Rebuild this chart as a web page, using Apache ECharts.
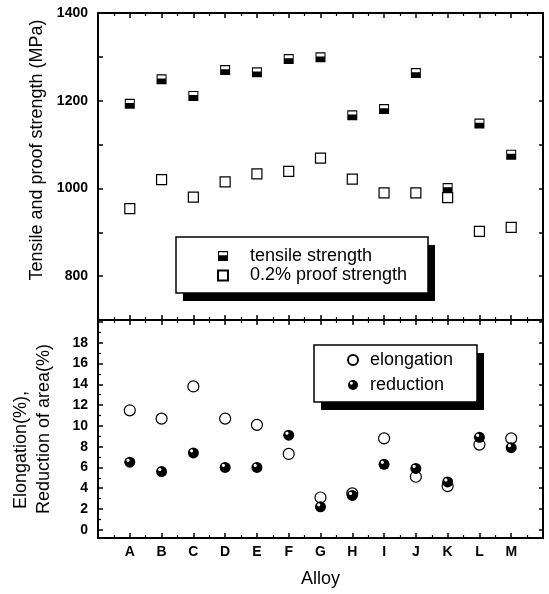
<!DOCTYPE html>
<html>
<head>
<meta charset="utf-8">
<script src="https://cdn.jsdelivr.net/npm/echarts@6/dist/echarts.min.js"></script>
<style>
html, body { margin: 0; padding: 0; background: #fff; }
#chart { width: 549px; height: 594px; }
</style>
</head>
<body>
<div id="chart"></div>
<script>
// data
var alloys = ['A', 'B', 'C', 'D', 'E', 'F', 'G', 'H', 'I', 'J', 'K', 'L', 'M'];
var tensile = [1193, 1249, 1211, 1270, 1265, 1295, 1299, 1167, 1181, 1263, 1001, 1148, 1077];
var proof = [954, 1020, 980, 1015, 1033, 1039, 1069, 1021, 990, 990, 979, 902, 911];
var elongation = [11.5, 10.7, 13.8, 10.7, 10.1, 7.3, 3.1, 3.5, 8.8, 5.1, 4.2, 8.2, 8.8];
var reduction = [6.5, 5.6, 7.4, 6.0, 6.0, 9.1, 2.2, 3.3, 6.3, 5.9, 4.6, 8.9, 7.9];
var percentLabels = [0, 2, 4, 6, 8, 10, 12, 14, 16, 18];
var percentMajor = [0, 2, 4, 6, 8, 10, 12, 14, 16, 18, 20];
var percentMinor = [1, 3, 5, 7, 9, 11, 13, 15, 17, 19];

var myChart = echarts.init(document.getElementById('chart'));

var black = '#000';
var font = 'Liberation Sans, Arial, sans-serif';

function pairs(vals) {
    return vals.map(function (v, i) { return [i + 1, v]; });
}

// x axis (alloy positions 1..13), used on both panels, top and bottom
function alloyAxis(grid, pos, showLabel) {
    return {
        type: 'value',
        gridIndex: grid,
        position: pos,
        min: 0,
        max: 14,
        interval: 1,
        axisLine: { show: true, onZero: false, lineStyle: { color: black, width: 2 } },
        axisTick: { show: true, inside: true, length: 5, lineStyle: { color: black, width: 1.5 } },
        minorTick: { show: true, splitNumber: 2, length: 3, lineStyle: { color: black, width: 1.2 } },
        splitLine: { show: false },
        axisLabel: {
            show: showLabel,
            margin: 7,
            color: black,
            fontFamily: font,
            fontSize: 14,
            fontWeight: 'bold',
            formatter: function (v) { return alloys[v - 1] || ''; }
        }
    };
}

function boxLine() {
    return { show: true, onZero: false, lineStyle: { color: black, width: 2 } };
}

var xAxes = [
    alloyAxis(0, 'bottom', false),
    alloyAxis(0, 'top', false),
    alloyAxis(1, 'bottom', true),
    alloyAxis(1, 'top', false)
];
xAxes[2].name = 'Alloy';
xAxes[2].nameLocation = 'middle';
xAxes[2].nameGap = 32;
xAxes[2].nameTextStyle = { color: black, fontFamily: font, fontSize: 18 };

var yAxes = [
    {
        // strength, left
        type: 'value', gridIndex: 0, position: 'left',
        min: 700, max: 1400, interval: 100,
        axisLine: boxLine(),
        axisTick: { show: true, inside: true, length: 5, lineStyle: { color: black, width: 1.5 } },
        splitLine: { show: false },
        axisLabel: {
            margin: 10, color: black, fontFamily: font, fontSize: 14, fontWeight: 'bold',
            formatter: function (v) { return v % 200 === 0 ? v : ''; }
        },
        name: 'Tensile and proof strength (MPa)',
        nameLocation: 'middle',
        nameGap: 49,
        nameTextStyle: { color: black, fontFamily: font, fontSize: 18, padding: [0, 0, 0, 33] }
    },
    {
        // strength, right
        type: 'value', gridIndex: 0, position: 'right',
        min: 700, max: 1400, interval: 100,
        axisLine: boxLine(),
        axisTick: { show: true, inside: true, length: 4, lineStyle: { color: black, width: 1.5 } },
        splitLine: { show: false },
        axisLabel: { show: false }
    },
    {
        // percent, left, major ticks + labels
        type: 'value', gridIndex: 1, position: 'left',
        min: -0.8, max: 20.2,
        axisLine: boxLine(),
        axisTick: { show: true, inside: true, length: 5, customValues: percentMajor, lineStyle: { color: black, width: 1.5 } },
        splitLine: { show: false },
        axisLabel: {
            margin: 10, color: black, fontFamily: font, fontSize: 14, fontWeight: 'bold',
            customValues: percentLabels
        },
        name: '{a|Elongation(%),}\n{b|Reduction of area(%)}',
        nameLocation: 'middle',
        nameGap: 42,
        nameTextStyle: {
            color: black, fontFamily: font, fontSize: 18, lineHeight: 23,
            rich: {
                a: { fontFamily: font, fontSize: 18, lineHeight: 23, padding: [0, 42, 0, 0] },
                b: { fontFamily: font, fontSize: 18, lineHeight: 23 }
            }
        }
    },
    {
        // percent, left, minor ticks
        type: 'value', gridIndex: 1, position: 'left',
        min: -0.8, max: 20.2,
        axisLine: { show: false, onZero: false },
        axisTick: { show: true, inside: true, length: 3, customValues: percentMinor, lineStyle: { color: black, width: 1.2 } },
        splitLine: { show: false },
        axisLabel: { show: false }
    },
    {
        // percent, right
        type: 'value', gridIndex: 1, position: 'right',
        min: -0.8, max: 20.2,
        axisLine: boxLine(),
        axisTick: { show: true, inside: true, length: 4, customValues: percentMajor, lineStyle: { color: black, width: 1.5 } },
        splitLine: { show: false },
        axisLabel: { show: false }
    }
];

// filled sphere look for "reduction"
var sphere = new echarts.graphic.RadialGradient(0.34, 0.32, 0.5, [
    { offset: 0, color: '#fff' },
    { offset: 0.2, color: '#fff' },
    { offset: 0.36, color: '#000' },
    { offset: 1, color: '#000' }
]);

// square, black below, white strip on top
var halfSquare = 'path://M0,0H10V10H0Z M1,1.2V4.2H9V1.2Z';

// legend frames with a hard drop shadow
function frame(x, y, w, h) {
    return [
        { type: 'rect', z: 5, silent: true, shape: { x: x + 7, y: y + 8, width: w, height: h }, style: { fill: black } },
        { type: 'rect', z: 5, silent: true, shape: { x: x, y: y, width: w, height: h }, style: { fill: '#fff', stroke: black, lineWidth: 1.5 } }
    ];
}

var legendBase = {
    orient: 'vertical',
    itemWidth: 10,
    itemHeight: 10,
    selectedMode: false,
    z: 10,
    backgroundColor: 'transparent',
    borderWidth: 0
};

var option = {
    animation: false,
    backgroundColor: '#fff',
    grid: [
        { left: 98, right: 6, top: 13, height: 307, outerBoundsMode: 'none' },
        { left: 98, right: 6, top: 320, height: 218, outerBoundsMode: 'none' }
    ],
    xAxis: xAxes,
    yAxis: yAxes,
    graphic: frame(176, 237, 252, 56).concat(frame(314, 345, 163, 57)),
    legend: [
        Object.assign({}, legendBase, {
            data: ['tensile strength', '0.2% proof strength'],
            left: 176, top: 237,
            itemGap: 1.5,
            padding: [10, 23, 9, 41],
            textStyle: { color: black, fontFamily: font, fontSize: 18, lineHeight: 18, padding: [0, 0, 0, 17] }
        }),
        Object.assign({}, legendBase, {
            data: ['elongation', 'reduction'],
            left: 314, top: 345,
            itemGap: 7,
            padding: [6, 26, 7, 33],
            textStyle: { color: black, fontFamily: font, fontSize: 18, lineHeight: 18, padding: [0, 0, 0, 7] }
        })
    ],
    series: [
        {
            name: '0.2% proof strength', type: 'scatter',
            xAxisIndex: 0, yAxisIndex: 0,
            symbol: 'rect', symbolSize: 10,
            itemStyle: { color: '#fff', borderColor: black, borderWidth: 1.2, opacity: 1 },
            data: pairs(proof)
        },
        {
            name: 'tensile strength', type: 'scatter',
            xAxisIndex: 0, yAxisIndex: 0,
            symbol: halfSquare, symbolSize: 10,
            itemStyle: { color: black, opacity: 1 },
            data: pairs(tensile)
        },
        {
            name: 'elongation', type: 'scatter',
            xAxisIndex: 2, yAxisIndex: 2,
            symbol: 'circle', symbolSize: 11,
            itemStyle: { color: '#fff', borderColor: black, borderWidth: 1.2, opacity: 1 },
            data: pairs(elongation)
        },
        {
            name: 'reduction', type: 'scatter',
            xAxisIndex: 2, yAxisIndex: 2,
            symbol: 'circle', symbolSize: 11,
            itemStyle: { color: sphere, opacity: 1 },
            data: pairs(reduction)
        }
    ]
};

myChart.setOption(option);
window.addEventListener('resize', function () {
    myChart.resize();
});
</script>
</body>
</html>
